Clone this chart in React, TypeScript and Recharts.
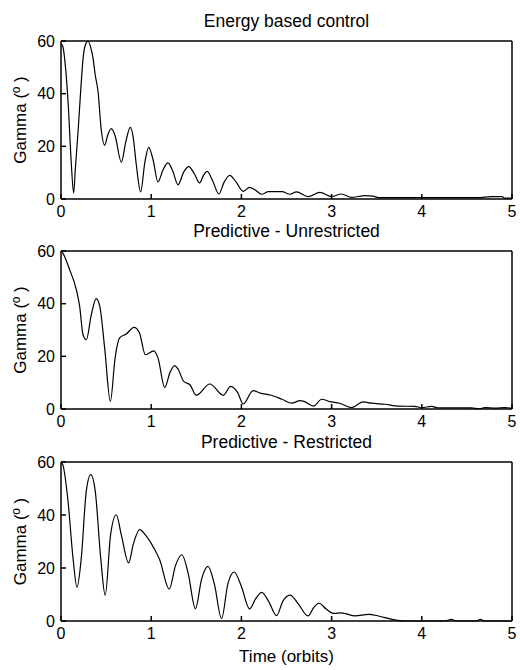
import React from 'react';
import { LineChart, Line, XAxis, YAxis, Label } from 'recharts';

// time axis (orbits) and gamma (deg)
const energyTime = [0, 0.02, 0.05, 0.08, 0.115, 0.14, 0.16, 0.19, 0.22, 0.245, 0.27, 0.3, 0.33, 0.355, 0.38, 0.41, 0.447, 0.484, 0.52, 0.558, 0.6, 0.669, 0.72, 0.768, 0.8, 0.835, 0.883, 0.93, 0.972, 1.02, 1.075, 1.13, 1.186, 1.24, 1.297, 1.36, 1.415, 1.48, 1.537, 1.58, 1.62, 1.68, 1.75, 1.81, 1.87, 1.94, 2.02, 2.09, 2.15, 2.225, 2.3, 2.45, 2.54, 2.61, 2.74, 2.87, 3.0, 3.11, 3.22, 3.37, 3.46, 3.52, 4.0, 4.62, 4.77, 4.89, 4.92, 5.0];
const energyGamma = [59, 58, 50, 36, 13, 2.3, 12, 26, 42, 53.5, 58.5, 59.9, 57.5, 53.5, 47, 41, 26, 20.4, 24.5, 26.7, 24, 14, 22, 27.2, 23.5, 13, 2.7, 14, 19.6, 15, 6.5, 11, 13.7, 10.5, 5.4, 10.2, 12.3, 9.5, 6.1, 9, 10.5, 7, 1.9, 6.5, 9, 6.5, 2.9, 4.4, 3.5, 1.8, 2.8, 2.8, 1.8, 2.7, 0.9, 2.5, 0.9, 1.9, 0.6, 1.3, 1.1, 0.5, 0.5, 0.5, 0.9, 0.9, 0.3, 0.3];

const unrestrictedTime = [0, 0.02, 0.096, 0.17, 0.207, 0.244, 0.281, 0.336, 0.39, 0.43, 0.484, 0.547, 0.6, 0.65, 0.724, 0.81, 0.87, 0.935, 1.03, 1.075, 1.15, 1.21, 1.26, 1.3, 1.36, 1.43, 1.5, 1.65, 1.8, 1.88, 1.96, 2.02, 2.13, 2.21, 2.32, 2.45, 2.56, 2.65, 2.7, 2.8, 2.89, 2.98, 3.09, 3.22, 3.35, 3.44, 3.59, 3.74, 3.92, 4.0, 4.11, 4.18, 4.55, 4.63, 4.7, 4.81, 4.92, 5.0];
const unrestrictedGamma = [60, 59.2, 52.9, 45.3, 39, 28.2, 26.3, 35.8, 41.9, 39, 23.2, 2.9, 19.4, 27, 28.5, 31, 28.9, 20.6, 22.1, 19.4, 8.2, 14, 16.5, 15, 10.5, 9.2, 5.2, 9.5, 5.2, 8.6, 6.1, 1.9, 7, 6, 5.3, 3.7, 2.2, 3.2, 2.8, 1.1, 3.7, 2.8, 2.2, 0.5, 2.7, 2.2, 1.8, 1.1, 1.0, 0.5, 1.0, 0.4, 0.4, 0.1, 0.5, 0.3, 0.5, 0.3];

const restrictedTime = [0, 0.02, 0.078, 0.133, 0.177, 0.225, 0.28, 0.33, 0.38, 0.44, 0.49, 0.55, 0.613, 0.668, 0.75, 0.8, 0.872, 0.946, 1.04, 1.094, 1.2, 1.27, 1.34, 1.41, 1.49, 1.56, 1.63, 1.7, 1.78, 1.85, 1.92, 2.0, 2.09, 2.16, 2.225, 2.3, 2.39, 2.46, 2.54, 2.63, 2.74, 2.8, 2.86, 2.94, 3.02, 3.11, 3.26, 3.41, 3.52, 3.67, 3.81, 4.25, 4.33, 4.38, 4.6, 4.65, 4.7, 5.0];
const restrictedGamma = [60, 59, 45.2, 23.8, 12.7, 23.8, 48.9, 55.2, 48.9, 23.8, 9.7, 32.6, 40.1, 32.6, 21.9, 28.8, 34.5, 32, 26.9, 23.1, 12.1, 21, 25, 18, 4.6, 16, 20.6, 14, 0.9, 14, 18.5, 13, 4.6, 8.5, 10.8, 7.5, 2.0, 7.5, 9.8, 6.5, 1.9, 5, 6.7, 4.5, 2.9, 3.1, 1.9, 2.5, 1.9, 0.6, 0, 0, 0.6, 0, 0, 0.6, 0, 0];

const xTicks = [0, 1, 2, 3, 4, 5];
const yTicks = [0, 20, 40, 60];

const FONT = '"Liberation Sans", Arial, Helvetica, sans-serif';
const tickStyle = { fontFamily: FONT, fontSize: 16, fill: '#000' };

interface PanelProps {
  time: number[];
  gamma: number[];
  title: string;
  plotTop: number;
  plotHeight: number;
  xLabel?: string;
}

const Panel: React.FC<PanelProps> = ({ time, gamma, title, plotTop, plotHeight, xLabel }) => {
  const rows = time.map((t, i) => ({ t, g: gamma[i] }));
  // top/right frame axes need a non-zero box or recharts skips them
  const marginTop = 40;
  const topH = 1;
  const bottomH = xLabel ? 52 : 30;

  const titleLabel = (props: any) => {
    const vb = props.viewBox;
    return (
      <text x={vb.x + vb.width / 2} y={vb.y + vb.height - 14} textAnchor="middle" fontFamily={FONT} fontSize={17.5} fill="#000">
        {title}
      </text>
    );
  };

  const gammaLabel = (props: any) => {
    const vb = props.viewBox;
    const cx = vb.x + 20;
    const cy = vb.y + vb.height / 2;
    return (
      <text x={cx} y={cy} transform={`rotate(-90 ${cx} ${cy})`} textAnchor="middle" dominantBaseline="central" fontFamily={FONT} fontSize={17} fill="#000">
        Gamma (º )
      </text>
    );
  };

  const timeLabel = (props: any) => {
    const vb = props.viewBox;
    return (
      <text x={vb.x + vb.width / 2} y={vb.y + 41} textAnchor="middle" fontFamily={FONT} fontSize={17} fill="#000">
        {xLabel}
      </text>
    );
  };

  return (
    <div style={{ position: 'absolute', left: 0, top: plotTop - marginTop - topH }}>
      <LineChart
        width={520}
        height={marginTop + topH + plotHeight + bottomH}
        data={rows}
        margin={{ top: marginTop, right: 7, bottom: 0, left: 0 }}
      >
        <XAxis
          xAxisId="b"
          dataKey="t"
          type="number"
          domain={[0, 5]}
          ticks={xTicks}
          interval={0}
          height={bottomH}
          stroke="#000"
          strokeWidth={1.5}
          tickSize={-5}
          tickMargin={12}
          tick={tickStyle}
        >
          {xLabel ? <Label content={timeLabel} /> : null}
        </XAxis>
        <XAxis
          xAxisId="t"
          dataKey="t"
          orientation="top"
          type="number"
          domain={[0, 5]}
          ticks={xTicks}
          interval={0}
          height={topH}
          stroke="#000"
          strokeWidth={1.5}
          tickSize={-5}
          tick={false}
        >
          <Label content={titleLabel} />
        </XAxis>
        <YAxis
          yAxisId="l"
          type="number"
          domain={[0, 60]}
          ticks={yTicks}
          interval={0}
          width={61}
          stroke="#000"
          strokeWidth={1.5}
          tickSize={-5}
          tickMargin={11}
          tick={tickStyle}
        >
          <Label content={gammaLabel} />
        </YAxis>
        <YAxis
          yAxisId="r"
          orientation="right"
          type="number"
          domain={[0, 60]}
          ticks={yTicks}
          interval={0}
          width={1}
          stroke="#000"
          strokeWidth={1.5}
          tickSize={-5}
          tick={false}
        />
        {/* invisible twin so the top/right frame axes get a series */}
        <Line
          xAxisId="t"
          yAxisId="r"
          dataKey="g"
          stroke="none"
          dot={false}
          activeDot={false}
          legendType="none"
          isAnimationActive={false}
        />
        <Line
          xAxisId="b"
          yAxisId="l"
          dataKey="g"
          type="monotone"
          stroke="#000"
          strokeWidth={1.2}
          dot={false}
          isAnimationActive={false}
        />
      </LineChart>
    </div>
  );
};

export default function App() {
  return (
    <div style={{ position: 'absolute', left: 0, top: 0, width: 520, height: 670, background: '#fff', fontFamily: FONT }}>
      <Panel time={energyTime} gamma={energyGamma} title="Energy based control" plotTop={41} plotHeight={158} />
      <Panel time={unrestrictedTime} gamma={unrestrictedGamma} title="Predictive - Unrestricted" plotTop={251} plotHeight={158} />
      <Panel time={restrictedTime} gamma={restrictedGamma} title="Predictive - Restricted" plotTop={462} plotHeight={159} xLabel="Time (orbits)" />
    </div>
  );
}
